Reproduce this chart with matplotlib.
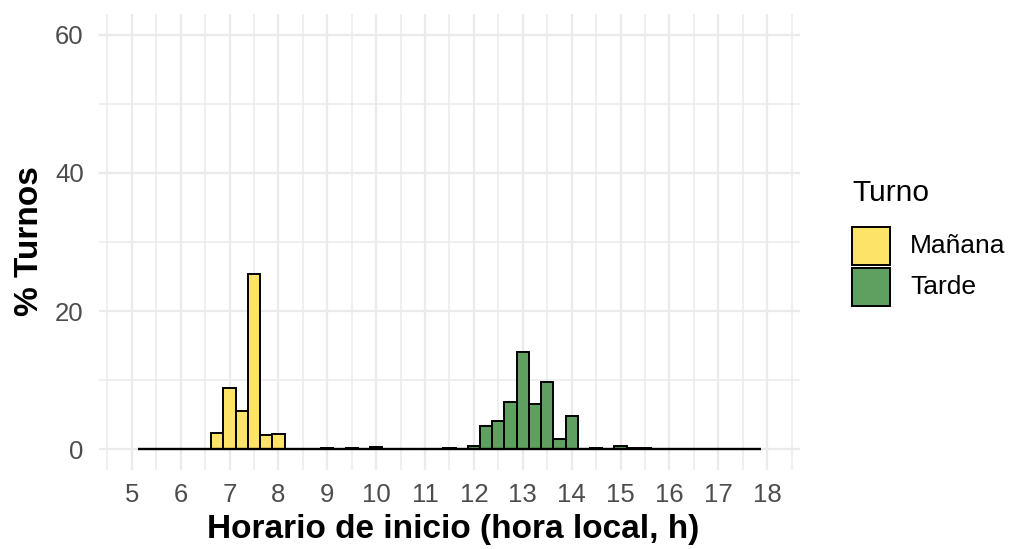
import numpy as np
import matplotlib
matplotlib.use("Agg")
import matplotlib.pyplot as plt
from matplotlib.patches import Rectangle

plt.rcParams['font.family'] = ['Liberation Sans', 'DejaVu Sans']

# ---- data ----
bin_width = 0.25
bin_first_center = 5.25
bin_last_center = 17.75

manana_centers = [6.75, 7.0, 7.25, 7.5, 7.75, 8.0, 9.0, 9.5, 10.0]
manana_pct = [2.4, 8.8, 5.6, 25.4, 2.1, 2.2, 0.15, 0.15, 0.35]

tarde_centers = [11.5, 12.0, 12.25, 12.5, 12.75, 13.0, 13.25, 13.5, 13.75, 14.0,
                 14.5, 15.0, 15.25, 15.5]
tarde_pct = [0.15, 0.5, 3.4, 4.1, 6.9, 14.1, 6.5, 9.7, 1.5, 4.8,
             0.15, 0.5, 0.15, 0.15]

x_ticks = list(range(5, 19))
y_ticks = [0, 20, 40, 60]
x_label = "Horario de inicio (hora local, h)"
y_label = "% Turnos"
legend_title = "Turno"
legend_labels = ["Mañana", "Tarde"]
colors = ["#FDE468", "#5F9F5F"]

W, H = 1010, 549
fig = plt.figure(figsize=(W / 100, H / 100), dpi=100)
# panel in pixels: left 99, right 800, top 14, bottom 470
ax = fig.add_axes([99 / W, 1 - 470 / H, 701 / W, 456 / H])

ax.set_xlim(4.33, 18.67)
ax.set_ylim(-3, 63)

# gridlines
grid_c = "#EBEBEB"
for v in np.arange(4.5, 18.51, 0.5):
    major = abs(v - round(v)) < 1e-9
    ax.axvline(v, color=grid_c, lw=1.6 if major else 1.1, zorder=0)
for v in [0, 10, 20, 30, 40, 50, 60]:
    major = v % 20 == 0
    ax.axhline(v, color=grid_c, lw=1.6 if major else 1.1, zorder=0)

all_centers = np.arange(bin_first_center, bin_last_center + 1e-9, bin_width)

def full_series(centers, vals):
    out = np.zeros(len(all_centers))
    for c, v in zip(centers, vals):
        idx = int(round((c - bin_first_center) / bin_width))
        out[idx] = v
    return out

m_full = full_series(manana_centers, manana_pct)
t_full = full_series(tarde_centers, tarde_pct)

ax.bar(all_centers, m_full, width=bin_width, color=colors[0], edgecolor="black",
       linewidth=1.4, zorder=2)
ax.bar(all_centers, t_full, width=bin_width, color=colors[1], edgecolor="black",
       linewidth=1.4, zorder=2)
ax.plot([bin_first_center - bin_width / 2, bin_last_center + bin_width / 2], [0, 0],
        color="black", lw=1.7, zorder=3, solid_capstyle="butt")

for s in ax.spines.values():
    s.set_visible(False)
ax.set_xticks(x_ticks)
ax.set_xticklabels([str(t) for t in x_ticks])
ax.set_yticks(y_ticks)
ax.tick_params(axis="both", length=0, labelsize=18.5, labelcolor="#4D4D4D")
ax.tick_params(axis="x", pad=9)
ax.tick_params(axis="y", pad=11)
ax.set_facecolor("white")

def fx(px):
    return px / W

def fy(py):
    return 1 - py / H

# axis titles
fig.text(fx(453), fy(538), x_label, fontsize=24, fontweight="bold",
         ha="center", va="baseline")
fig.text(fx(30), fy(241.5), y_label, fontsize=24, fontweight="bold",
         ha="center", va="center", rotation=90)

# legend (manual, ggplot-like)
fig.text(fx(852), fy(201.5), legend_title, fontsize=21.5, ha="left", va="baseline")
key_tops = [227, 268]
for top, c, lab in zip(key_tops, colors, legend_labels):
    fig.add_artist(Rectangle((fx(852), fy(top + 38)), 38 / W, 38 / H,
                             transform=fig.transFigure, facecolor=c,
                             edgecolor="black", linewidth=1.4))
    fig.text(fx(910), fy(top + 19), lab, fontsize=19, ha="left", va="center")

fig.savefig("out.png", dpi=100)
